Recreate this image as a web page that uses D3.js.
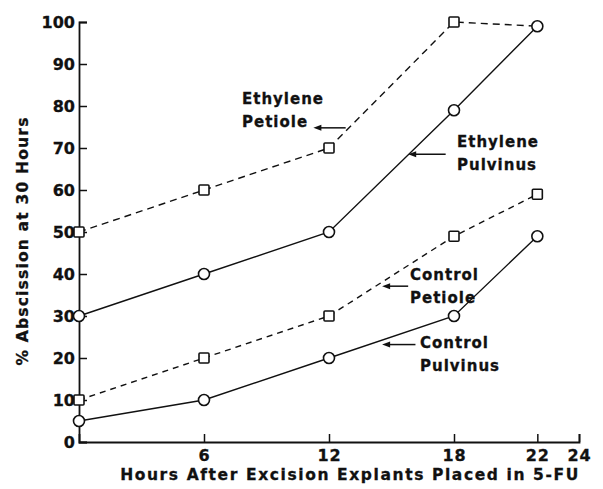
<!DOCTYPE html>
<html>
<head>
<meta charset="utf-8">
<script src="https://cdn.jsdelivr.net/npm/d3@7"></script>
<style>
  body { margin: 0; background: #fff; }
  text { font-family: "DejaVu Sans", sans-serif; font-weight: bold; fill: #111; stroke: #111; stroke-width: 0.3px; }
</style>
</head>
<body>
<div id="chart"></div>
<script>
// hours after excision
var hours = [0, 6, 12, 18, 22];
var xTicks = [6, 12, 18, 22, 24];
var yTicks = [0, 10, 20, 30, 40, 50, 60, 70, 80, 90, 100];

// % abscission at 30 hours
var ethylenePetiole  = [50, 60, 70, 100, 99];
var ethylenePulvinus = [30, 40, 50, 79, 99];
var controlPetiole   = [10, 20, 30, 49, 59];
var controlPulvinus  = [5, 10, 20, 30, 49];

var width = 603, height = 489,
    x0 = 79, x1 = 579, y0 = 442, y1 = 22;

var x = d3.scaleLinear().domain([0, 24]).range([x0, x1]),
    y = d3.scaleLinear().domain([0, 100]).range([y0, y1]);

var svg = d3.select("#chart").append("svg")
    .attr("width", width)
    .attr("height", height);

// axes
var yAxis = d3.axisLeft(y).tickValues(yTicks).tickSize(-8).tickPadding(4);
var gy = svg.append("g").attr("transform", "translate(" + x0 + ",0)").call(yAxis);
gy.select(".domain").attr("stroke", "#111").attr("stroke-width", 1.8);
gy.selectAll(".tick line").attr("stroke", "#111").attr("stroke-width", 1.5);
gy.selectAll(".tick text").style("font-size", "16px").attr("dy", "0.36em");

var xAxis = d3.axisBottom(x).tickValues(xTicks).tickSize(-8).tickPadding(8);
var gx = svg.append("g").attr("transform", "translate(0," + y0 + ")").call(xAxis);
gx.select(".domain").attr("stroke", "#111").attr("stroke-width", 1.8);
gx.selectAll(".tick line").attr("stroke", "#111").attr("stroke-width", 1.5);
gx.selectAll(".tick text").style("font-size", "16px").attr("dy", "0.7em")
  .attr("letter-spacing", "1px");

svg.append("text")
    .attr("x", 350).attr("y", 480)
    .attr("text-anchor", "middle")
    .style("font-size", "15.5px")
    .attr("letter-spacing", "1.6px")
    .text("Hours After Excision Explants Placed in 5-FU");

svg.append("text")
    .attr("transform", "translate(28,241) rotate(-90)")
    .attr("text-anchor", "middle")
    .style("font-size", "15.5px")
    .attr("letter-spacing", "1.2px")
    .text("% Abscission at 30 Hours");

// series
var series = [
  {name: "ethylenePetiole", values: ethylenePetiole, dash: "7,5", marker: "square", skipLast: true},
  {name: "ethylenePulvinus", values: ethylenePulvinus, dash: null, marker: "circle"},
  {name: "controlPetiole", values: controlPetiole, dash: "6,5", marker: "square"},
  {name: "controlPulvinus", values: controlPulvinus, dash: null, marker: "circle"}
];

var line = d3.line()
    .x(function(d, i) { return x(hours[i]); })
    .y(function(d) { return y(d); });

series.forEach(function(s) {
  svg.append("path")
     .datum(s.values)
     .attr("d", line)
     .attr("fill", "none")
     .attr("stroke", "#111")
     .attr("stroke-width", 1.4)
     .attr("stroke-dasharray", s.dash);
});

series.forEach(function(s) {
  var pts = s.values.map(function(v, i) { return {h: hours[i], v: v}; });
  if (s.skipLast) pts = pts.slice(0, -1);
  var g = svg.append("g").attr("class", s.name);
  if (s.marker == "circle") {
    g.selectAll("circle").data(pts).enter().append("circle")
      .attr("cx", function(d) { return x(d.h); })
      .attr("cy", function(d) { return y(d.v); })
      .attr("r", 5.5)
      .attr("fill", "#fff").attr("stroke", "#111").attr("stroke-width", 1.6);
  } else {
    g.selectAll("rect").data(pts).enter().append("rect")
      .attr("x", function(d) { return x(d.h) - 5; })
      .attr("y", function(d) { return y(d.v) - 5; })
      .attr("width", 10).attr("height", 10).attr("rx", 1)
      .attr("fill", "#fff").attr("stroke", "#111").attr("stroke-width", 1.6);
  }
});

// labels with arrows (arrow positions in data units)
var labels = [
  {lines: ["Ethylene", "Petiole"], tx: 242, ty: 104, from: [12.8, 74.8], to: [11.25, 74.8]},
  {lines: ["Ethylene", "Pulvinus"], tx: 457, ty: 147, from: [17.6, 68.5], to: [15.8, 68.5]},
  {lines: ["Control", "Petiole"], tx: 410, ty: 280, from: [15.8, 37.1], to: [14.55, 37.1]},
  {lines: ["Control", "Pulvinus"], tx: 420, ty: 348, from: [16.15, 23.2], to: [14.55, 23.2]}
];

labels.forEach(function(l) {
  var t = svg.append("text")
     .attr("x", l.tx).attr("y", l.ty)
     .style("font-size", "15px")
     .attr("letter-spacing", "1px");
  l.lines.forEach(function(s, i) {
    t.append("tspan").attr("x", l.tx).attr("dy", i ? 23 : 0).text(s);
  });
  var ax = x(l.from[0]), bx = x(l.to[0]), ay = y(l.from[1]);
  svg.append("line")
     .attr("x1", ax).attr("y1", ay).attr("x2", bx + 4).attr("y2", ay)
     .attr("stroke", "#111").attr("stroke-width", 1.5);
  svg.append("path")
     .attr("d", d3.line()([[bx, ay], [bx + 8, ay - 3], [bx + 8, ay + 3]]))
     .attr("fill", "#111");
});
</script>
</body>
</html>
